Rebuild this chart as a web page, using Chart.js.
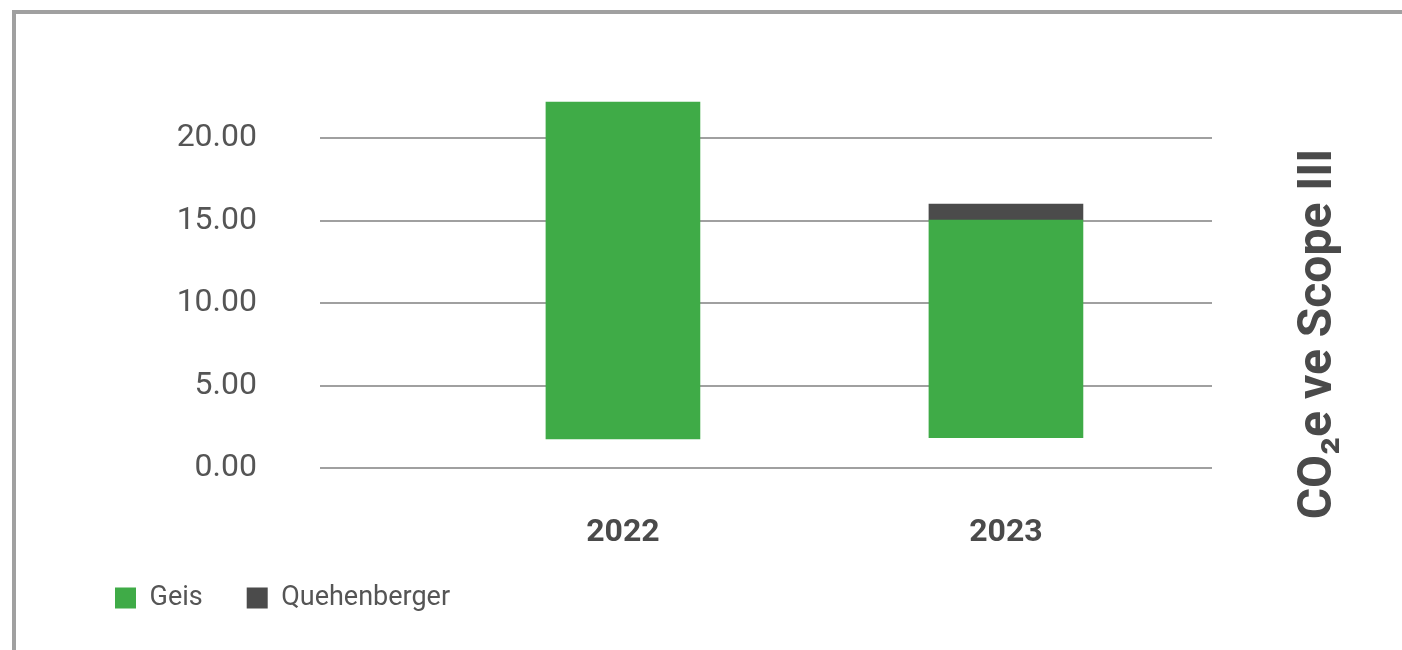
<!DOCTYPE html>
<html>
<head>
<meta charset="utf-8">
<script src="https://cdn.jsdelivr.net/npm/chart.js@4"></script>
<style>
  html, body { margin: 0; padding: 0; background: #ffffff; overflow: hidden; }
  #frame { position: absolute; left: 12px; top: 10px; width: 3000px; height: 3000px;
           border-top: 4px solid #a0a0a0; border-left: 4px solid #a0a0a0; box-sizing: border-box; }
  #c { position: absolute; left: 0; top: 0; }
</style>
</head>
<body>
<div id="frame"></div>
<canvas id="c" width="1402" height="650" style="width:1402px;height:650px"></canvas>
<script>
// ---- data ----
const years = [2022, 2023];
const geisStart = [1.76, 1.84];
const geisEnd = [22.18, 15.03];
const quehStart = [null, 15.03];
const quehEnd = [null, 16.0];
const yTicks = [0, 5, 10, 15, 20];
const seriesNames = ['Geis', 'Quehenberger'];
const titleText = 'CO\u2082e ve Scope III';

const toPoints = (s, e) => years.map((x, i) => ({ x: x, y: (s[i] == null ? null : [s[i], e[i]]) }));

const sideTitle = {
  id: 'sideTitle',
  afterDraw(chart) {
    const ctx = chart.ctx;
    ctx.save();
    ctx.translate(chart.chartArea.right + 107, 334);
    ctx.rotate(-Math.PI / 2);
    ctx.font = 'bold 48px Roboto';
    ctx.fillStyle = '#4a4a4a';
    ctx.textAlign = 'center';
    ctx.textBaseline = 'middle';
    ctx.fillText(titleText, 0, 0);
    ctx.restore();
  }
};

// lift the legend row a little closer to the axis labels
const legendLift = {
  id: 'legendLift',
  afterLayout(chart) {
    const l = chart.legend;
    if (l) { l.top -= 20.5; l.bottom -= 20.5; }
  }
};

new Chart(document.getElementById('c'), {
  type: 'bar',
  data: {
    datasets: [
      { label: seriesNames[0], data: toPoints(geisStart, geisEnd), backgroundColor: '#3fab47',
        barThickness: 154, grouped: false },
      { label: seriesNames[1], data: toPoints(quehStart, quehEnd), backgroundColor: '#4b4b4b',
        barThickness: 154, grouped: false }
    ]
  },
  options: {
    responsive: false,
    animation: false,
    devicePixelRatio: 1,
    layout: { padding: { left: 71, right: 190, top: 55.5, bottom: 8 } },
    plugins: {
      title: { display: false },
      tooltip: { enabled: false },
      legend: {
        position: 'bottom',
        align: 'start',
        labels: {
          boxWidth: 21, boxHeight: 21, padding: 44,
          color: '#555555',
          font: { family: 'Roboto', size: 27 }
        }
      }
    },
    scales: {
      x: {
        type: 'linear',
        offset: false,
        min: 2021.209, max: 2023.538,
        afterBuildTicks: (s) => { s.ticks = years.map(v => ({ value: v })); },
        afterFit: (s) => { s.height = 93; s.paddingLeft = 0; s.paddingRight = 0; },
        grid: { display: false, drawTicks: false },
        border: { display: false },
        ticks: {
          callback: (v) => String(v),
          color: '#4a4a4a',
          padding: 46,
          font: { family: 'Roboto', size: 32, weight: 'bold' }
        }
      },
      y: {
        min: 0, max: 25,
        afterBuildTicks: (s) => { s.ticks = yTicks.map(v => ({ value: v })); },
        afterFit: (s) => { s.width = 249; s.paddingTop = 0; s.paddingBottom = 0; },
        grid: { color: '#a0a0a0', lineWidth: 2, drawTicks: false },
        border: { display: false },
        ticks: {
          callback: (v) => Number(v).toFixed(2),
          color: '#555555',
          padding: 63,
          font: { family: 'Roboto', size: 32 }
        }
      }
    }
  },
  plugins: [sideTitle, legendLift]
});
</script>
</body>
</html>
